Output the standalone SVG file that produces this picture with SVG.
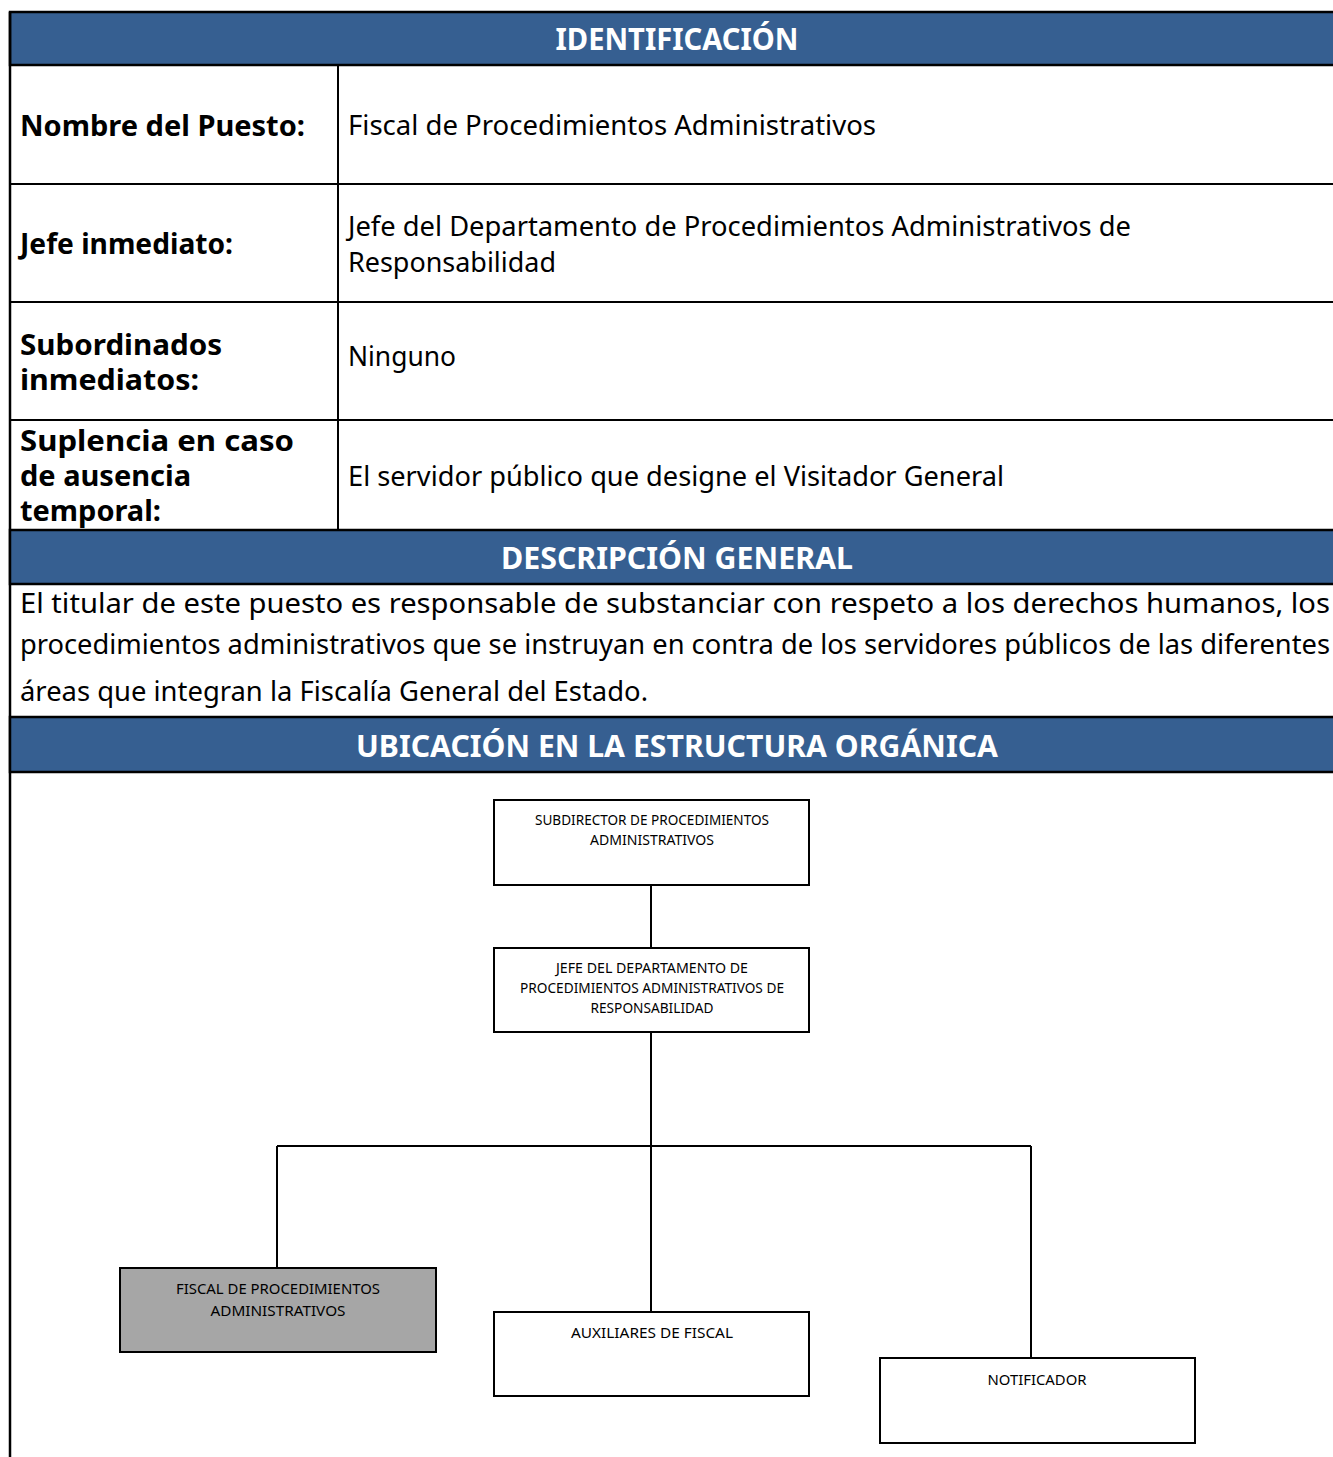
<svg xmlns="http://www.w3.org/2000/svg" width="1333" height="1457" viewBox="0 0 1333 1457">
<style>
.hdr{fill:#365f91;stroke:#000;stroke-width:2.5}
.ht{font-family:"Noto Sans","DejaVu Sans",sans-serif;font-weight:bold;font-size:30px;fill:#fff;text-anchor:middle}
.lb{font-family:"Noto Sans","DejaVu Sans",sans-serif;font-weight:bold;font-size:28px;fill:#000}
.tx{font-family:"Noto Sans","DejaVu Sans",sans-serif;font-size:28px;fill:#000}
.ln{stroke:#000;stroke-width:2;fill:none}
.box{fill:#fff;stroke:#000;stroke-width:2}
.sel{fill:#a6a6a6;stroke:#000;stroke-width:2}
.bt{font-family:"Noto Sans","DejaVu Sans",sans-serif;font-size:14px;fill:#000;text-anchor:middle}
</style>
<rect x="0" y="0" width="1333" height="1457" fill="#fff"/>
<g id="table">
<rect class="hdr" x="10" y="12" width="1330" height="53"/>
<text class="ht" x="677" y="50" textLength="243" lengthAdjust="spacingAndGlyphs">IDENTIFICACIÓN</text>
<line class="ln" x1="10" y1="184" x2="1333" y2="184"/>
<line class="ln" x1="10" y1="302" x2="1333" y2="302"/>
<line class="ln" x1="10" y1="420" x2="1333" y2="420"/>
<line class="ln" x1="338" y1="65" x2="338" y2="530"/>
<line x1="10" y1="12" x2="10" y2="1457" stroke="#000" stroke-width="2.5"/>
<text class="lb" x="20" y="136" textLength="285" lengthAdjust="spacingAndGlyphs">Nombre del Puesto:</text>
<text class="tx" x="348" y="135" textLength="528" lengthAdjust="spacingAndGlyphs">Fiscal de Procedimientos Administrativos</text>
<text class="lb" x="20" y="254" textLength="213" lengthAdjust="spacingAndGlyphs">Jefe inmediato:</text>
<text class="tx" x="348" y="236" textLength="783" lengthAdjust="spacingAndGlyphs">Jefe del Departamento de Procedimientos Administrativos de</text>
<text class="tx" x="348" y="272" textLength="208" lengthAdjust="spacingAndGlyphs">Responsabilidad</text>
<text class="lb" x="20" y="355" textLength="202" lengthAdjust="spacingAndGlyphs">Subordinados</text>
<text class="lb" x="20" y="390" textLength="179" lengthAdjust="spacingAndGlyphs">inmediatos:</text>
<text class="tx" x="348" y="366" textLength="108" lengthAdjust="spacingAndGlyphs">Ninguno</text>
<text class="lb" x="20" y="451" textLength="274" lengthAdjust="spacingAndGlyphs">Suplencia en caso</text>
<text class="lb" x="20" y="486" textLength="171" lengthAdjust="spacingAndGlyphs">de ausencia</text>
<text class="lb" x="20" y="521" textLength="141" lengthAdjust="spacingAndGlyphs">temporal:</text>
<text class="tx" x="348" y="486" textLength="656" lengthAdjust="spacingAndGlyphs">El servidor público que designe el Visitador General</text>
<rect class="hdr" x="10" y="530" width="1330" height="54"/>
<text class="ht" x="677" y="569" textLength="352" lengthAdjust="spacingAndGlyphs">DESCRIPCIÓN GENERAL</text>
<text class="tx" x="20" y="613" textLength="1310" lengthAdjust="spacingAndGlyphs">El titular de este puesto es responsable de substanciar con respeto a los derechos humanos, los</text>
<text class="tx" x="20" y="654" textLength="1310" lengthAdjust="spacingAndGlyphs">procedimientos administrativos que se instruyan en contra de los servidores públicos de las diferentes</text>
<text class="tx" x="20" y="701" textLength="628" lengthAdjust="spacingAndGlyphs">áreas que integran la Fiscalía General del Estado.</text>
<rect class="hdr" x="10" y="717" width="1330" height="55"/>
<text class="ht" x="677" y="757" textLength="642" lengthAdjust="spacingAndGlyphs">UBICACIÓN EN LA ESTRUCTURA ORGÁNICA</text>
</g>
<g id="connectors">
<line class="ln" x1="651" y1="885" x2="651" y2="948"/>
<line class="ln" x1="651" y1="1032" x2="651" y2="1312"/>
<line class="ln" x1="277" y1="1146" x2="1031" y2="1146"/>
<line class="ln" x1="277" y1="1146" x2="277" y2="1268"/>
<line class="ln" x1="1031" y1="1146" x2="1031" y2="1358"/>
</g>
<g id="subdirector">
<rect class="box" x="494" y="800" width="315" height="85"/>
<text class="bt" x="652" y="825" textLength="234" lengthAdjust="spacingAndGlyphs">SUBDIRECTOR DE PROCEDIMIENTOS</text>
<text class="bt" x="652" y="845" textLength="124" lengthAdjust="spacingAndGlyphs">ADMINISTRATIVOS</text>
</g>
<g id="jefe">
<rect class="box" x="494" y="948" width="315" height="84"/>
<text class="bt" x="652" y="973" textLength="192" lengthAdjust="spacingAndGlyphs">JEFE DEL DEPARTAMENTO DE</text>
<text class="bt" x="652" y="993" textLength="264" lengthAdjust="spacingAndGlyphs">PROCEDIMIENTOS ADMINISTRATIVOS DE</text>
<text class="bt" x="652" y="1013" textLength="123" lengthAdjust="spacingAndGlyphs">RESPONSABILIDAD</text>
</g>
<g id="fiscal">
<rect class="sel" x="120" y="1268" width="316" height="84"/>
<text class="bt" x="278" y="1294" textLength="204" lengthAdjust="spacingAndGlyphs">FISCAL DE PROCEDIMIENTOS</text>
<text class="bt" x="278" y="1316" textLength="135" lengthAdjust="spacingAndGlyphs">ADMINISTRATIVOS</text>
</g>
<g id="auxiliares">
<rect class="box" x="494" y="1312" width="315" height="84"/>
<text class="bt" x="652" y="1338" textLength="162" lengthAdjust="spacingAndGlyphs">AUXILIARES DE FISCAL</text>
</g>
<g id="notificador">
<rect class="box" x="880" y="1358" width="315" height="85"/>
<text class="bt" x="1037" y="1385" textLength="99" lengthAdjust="spacingAndGlyphs">NOTIFICADOR</text>
</g>
</svg>
